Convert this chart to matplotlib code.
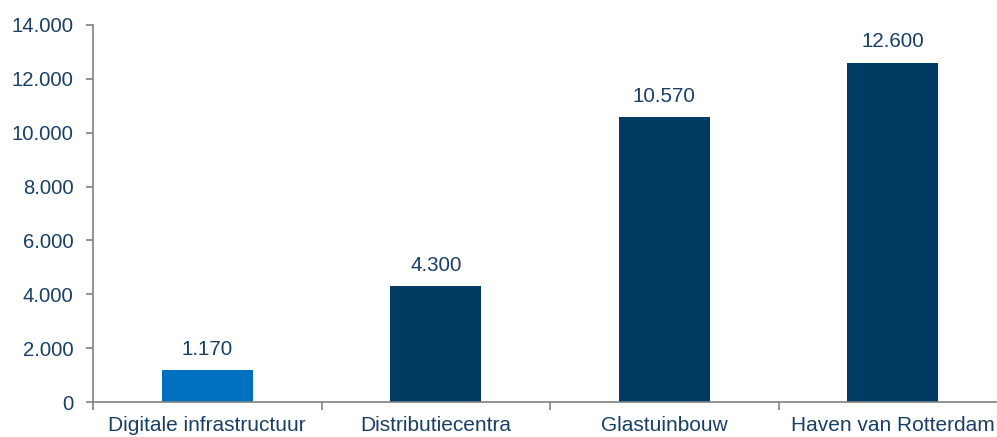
import matplotlib
matplotlib.use("Agg")
import matplotlib.pyplot as plt

categories = ["Digitale infrastructuur", "Distributiecentra", "Glastuinbouw", "Haven van Rotterdam"]
values = [1170, 4300, 10570, 12600]
value_labels = ["1.170", "4.300", "10.570", "12.600"]
yticks = [0, 2000, 4000, 6000, 8000, 10000, 12000, 14000]
ytick_labels = ["0", "2.000", "4.000", "6.000", "8.000", "10.000", "12.000", "14.000"]
colors = ["#0070C0", "#003B63", "#003B63", "#003B63"]

plt.rcParams['font.family'] = ['Liberation Sans', 'DejaVu Sans']
text_color = "#1A3F66"

fig = plt.figure(figsize=(9.97, 4.37), dpi=100)
W, H = 997, 437
ax = fig.add_axes([93 / W, (H - 402) / H, 914 / W, 377 / H])

x = list(range(len(categories)))
ax.bar(x, values, width=0.40, color=colors, zorder=2)
for xi, v, lab in zip(x, values, value_labels):
    ax.text(xi, v + 420, lab, ha="center", va="bottom", fontsize=14.8, color=text_color)

ax.set_xlim(-0.5, len(categories) - 0.5)
ax.set_ylim(0, 14000)
ax.set_yticks(yticks)
ax.set_yticklabels(ytick_labels, fontsize=14.6, color=text_color)
ax.set_xticks([i - 0.5 for i in range(len(categories) + 1)])
ax.set_xticklabels([])
ax.set_xticks(x, minor=True)
ax.set_xticklabels(categories, minor=True, fontsize=15.0, color=text_color)
ax.tick_params(axis="x", which="major", direction="out", length=6, color="#808080", width=1.2)
ax.tick_params(axis="x", which="minor", length=0, pad=10)
ax.tick_params(axis="y", direction="out", length=5, color="#808080", width=1.2, pad=9)

for s in ["top", "right"]:
    ax.spines[s].set_visible(False)
for s in ["left", "bottom"]:
    ax.spines[s].set_color("#808080")
    ax.spines[s].set_linewidth(1.2)

fig.savefig("out.png", dpi=100)
